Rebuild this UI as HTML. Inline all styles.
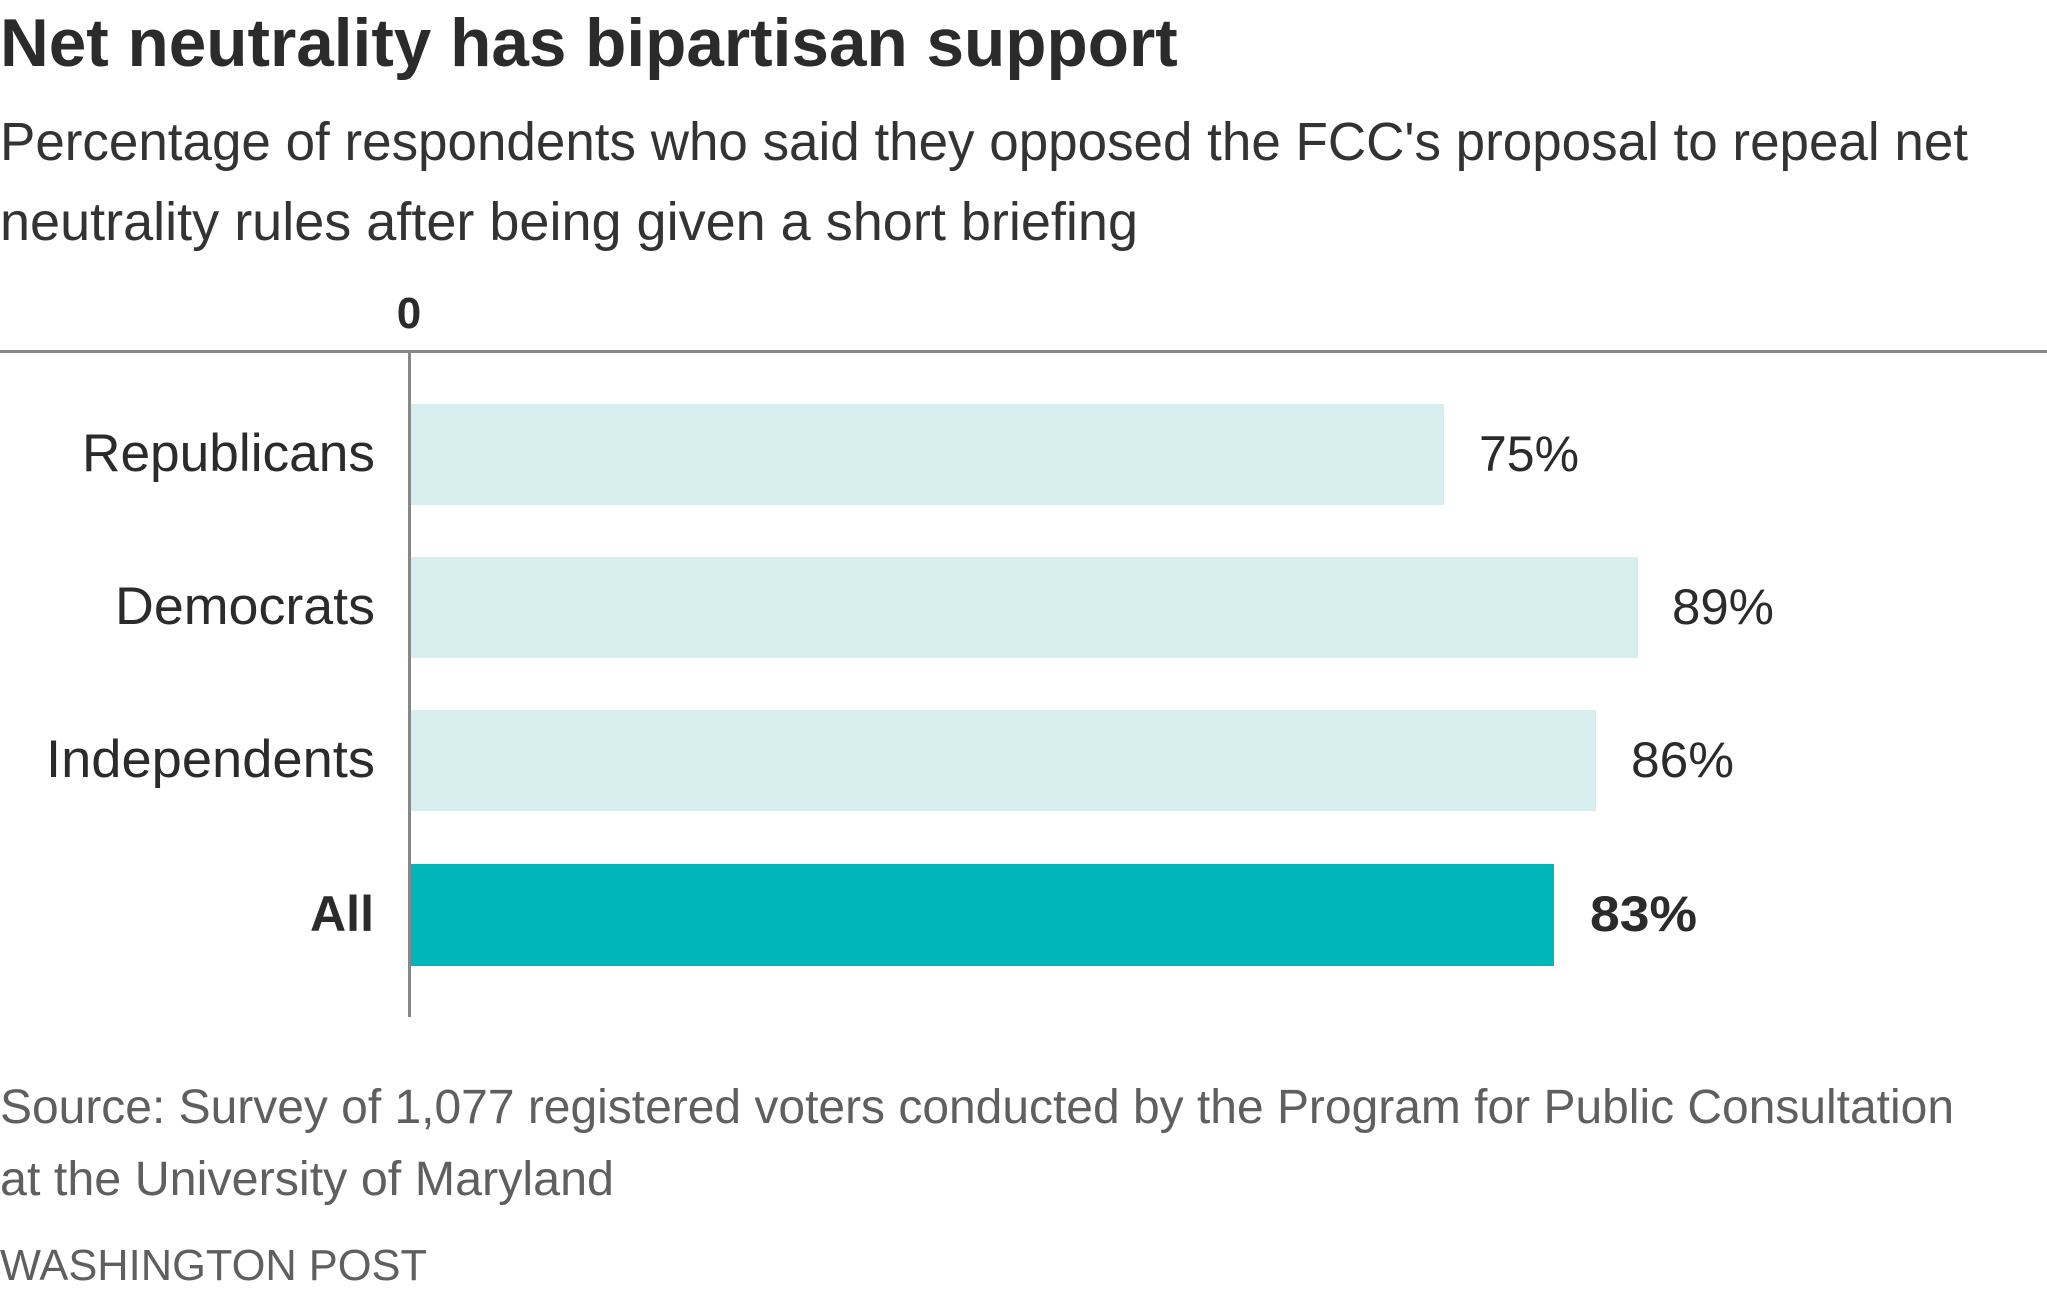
<!DOCTYPE html>
<html>
<head>
<meta charset="utf-8">
<style>
  html, body { margin: 0; padding: 0; background: #ffffff; }
  body { width: 2047px; height: 1297px; overflow: hidden; }
  svg { display: block; }
  text { font-family: "Liberation Sans", Arial, sans-serif; }
</style>
</head>
<body>
<svg width="2047" height="1297" viewBox="0 0 2047 1297" xmlns="http://www.w3.org/2000/svg">
  <rect x="0" y="0" width="2047" height="1297" fill="#ffffff"/>

  <!-- Title -->
  <text x="0" y="66" font-size="67.5" font-weight="bold" fill="#2b2b2b">Net neutrality has bipartisan support</text>

  <!-- Subtitle -->
  <text x="0" y="160" font-size="53.5" fill="#333333" textLength="1968" lengthAdjust="spacingAndGlyphs">Percentage of respondents who said they opposed the FCC's proposal to repeal net</text>
  <text x="0" y="240" font-size="53.5" fill="#333333" textLength="1138" lengthAdjust="spacingAndGlyphs">neutrality rules after being given a short briefing</text>

  <!-- Axis tick label -->
  <text x="409" y="328" font-size="44" font-weight="bold" fill="#2b2b2b" text-anchor="middle">0</text>

  <!-- Bars -->
  <rect x="411" y="404" width="1033" height="101" fill="#d6eeee"/>
  <rect x="411" y="557" width="1227" height="101" fill="#d6eeee"/>
  <rect x="411" y="710" width="1185" height="101" fill="#d6eeee"/>
  <rect x="411" y="864" width="1143" height="102" fill="#00b6b8"/>

  <!-- Axis lines -->
  <rect x="0" y="350" width="2047" height="3" fill="#878787"/>
  <rect x="408" y="350" width="3" height="667" fill="#878787"/>

  <!-- Category labels -->
  <text x="82" y="471" font-size="52.5" fill="#2b2b2b" textLength="293" lengthAdjust="spacingAndGlyphs">Republicans</text>
  <text x="115" y="624" font-size="52.5" fill="#2b2b2b" textLength="260" lengthAdjust="spacingAndGlyphs">Democrats</text>
  <text x="46" y="777" font-size="52.5" fill="#2b2b2b" textLength="329" lengthAdjust="spacingAndGlyphs">Independents</text>
  <text x="310" y="931" font-size="50" font-weight="bold" fill="#2b2b2b" textLength="64" lengthAdjust="spacingAndGlyphs">All</text>

  <!-- Value labels -->
  <text x="1479" y="471" font-size="50.5" fill="#2b2b2b" textLength="100" lengthAdjust="spacingAndGlyphs">75%</text>
  <text x="1672" y="624" font-size="50.5" fill="#2b2b2b" textLength="102" lengthAdjust="spacingAndGlyphs">89%</text>
  <text x="1631" y="777" font-size="50.5" fill="#2b2b2b" textLength="103" lengthAdjust="spacingAndGlyphs">86%</text>
  <text x="1590" y="931" font-size="50" font-weight="bold" fill="#2b2b2b" textLength="107" lengthAdjust="spacingAndGlyphs">83%</text>

  <!-- Footer -->
  <text x="0" y="1123" font-size="48" fill="#5f5f5f" textLength="1954" lengthAdjust="spacingAndGlyphs">Source: Survey of 1,077 registered voters conducted by the Program for Public Consultation</text>
  <text x="0" y="1195" font-size="48" fill="#5f5f5f" textLength="614" lengthAdjust="spacingAndGlyphs">at the University of Maryland</text>
  <text x="0" y="1280" font-size="44" fill="#5f5f5f" textLength="427" lengthAdjust="spacingAndGlyphs">WASHINGTON POST</text>
</svg>
</body>
</html>
